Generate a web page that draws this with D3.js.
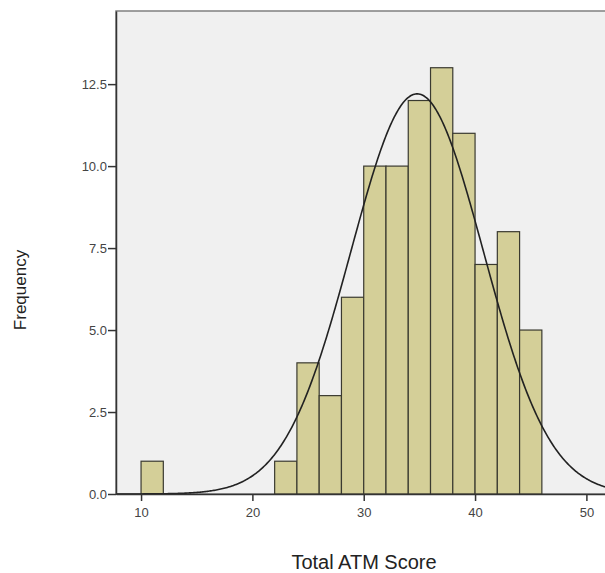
<!DOCTYPE html>
<html>
<head>
<meta charset="utf-8">
<script src="https://cdn.jsdelivr.net/npm/d3@7"></script>
<style>
  body { margin: 0; background: #fff; }
  .axis text { font-family: "Liberation Sans", Arial, sans-serif; font-size: 13px; fill: #444; }
  .axis path, .axis line { stroke: #333; stroke-width: 1.5; }
</style>
</head>
<body>
<script>
// bins of width 2 (lower edges) and counts
var binStarts = [10, 22, 24, 26, 28, 30, 32, 34, 36, 38, 40, 42, 44];
var counts = [1, 1, 4, 3, 6, 10, 10, 12, 13, 11, 7, 8, 5];
var binWidth = 2;
var xTicks = [10, 20, 30, 40, 50];
var yTicks = [0, 2.5, 5, 7.5, 10, 12.5];
// normal curve parameters
var mean = 34.8, sd = 5.95;

var w = 605, h = 573;
var padL = 116, padT = 11, padR = 612, padB = 494;

var x = d3.scaleLinear().domain([7.75, 52.3]).range([padL, padR]);
var y = d3.scaleLinear().domain([0, 14.73]).range([padB, padT]);

var svg = d3.select("body").append("svg")
  .attr("width", w).attr("height", h);

// plot background + frame
svg.append("rect")
  .attr("x", padL).attr("y", padT)
  .attr("width", padR - padL).attr("height", padB - padT)
  .attr("fill", "#f0f0f0")
  .attr("stroke", "#808080").attr("stroke-width", 1.5);

// bars
var n = d3.sum(counts);
svg.selectAll("rect.bar")
  .data(binStarts)
  .enter().append("rect")
  .attr("class", "bar")
  .attr("x", function(d) { return x(d); })
  .attr("width", function(d) { return x(d + binWidth) - x(d); })
  .attr("y", function(d, i) { return y(counts[i]); })
  .attr("height", function(d, i) { return padB - y(counts[i]); })
  .attr("fill", "#d4cf98")
  .attr("stroke", "#3a3a30").attr("stroke-width", 1.2);

// normal curve
var pts = d3.range(7.75, 52.3, 0.1).map(function(v) {
  var z = (v - mean) / sd;
  return [v, n * binWidth / (sd * Math.sqrt(2 * Math.PI)) * Math.exp(-0.5 * z * z)];
});
svg.append("path")
  .datum(pts)
  .attr("fill", "none")
  .attr("stroke", "#222").attr("stroke-width", 1.6)
  .attr("d", d3.line().x(function(d) { return x(d[0]); }).y(function(d) { return y(d[1]); }));

// axes
var xAxis = d3.axisBottom(x).tickValues(xTicks).tickSize(7).tickSizeOuter(0);
var yAxis = d3.axisLeft(y).tickValues(yTicks).tickSize(8).tickSizeOuter(0).tickFormat(d3.format(".1f"));

svg.append("g").attr("class", "axis")
  .attr("transform", "translate(0," + padB + ")")
  .call(xAxis)
  .selectAll("text").attr("dy", "1.0em");

svg.append("g").attr("class", "axis")
  .attr("transform", "translate(" + padL + ",0)")
  .call(yAxis)
  .selectAll("text").attr("dx", "0.15em");

// titles
svg.append("text")
  .attr("x", 364).attr("y", 569)
  .attr("text-anchor", "middle")
  .attr("font-family", "Liberation Sans, Arial, sans-serif")
  .attr("font-size", "20px").attr("fill", "#222")
  .text("Total ATM Score");

svg.append("text")
  .attr("transform", "translate(26,290) rotate(-90)")
  .attr("text-anchor", "middle")
  .attr("font-family", "Liberation Sans, Arial, sans-serif")
  .attr("font-size", "17px").attr("fill", "#222")
  .text("Frequency");
</script>
</body>
</html>
